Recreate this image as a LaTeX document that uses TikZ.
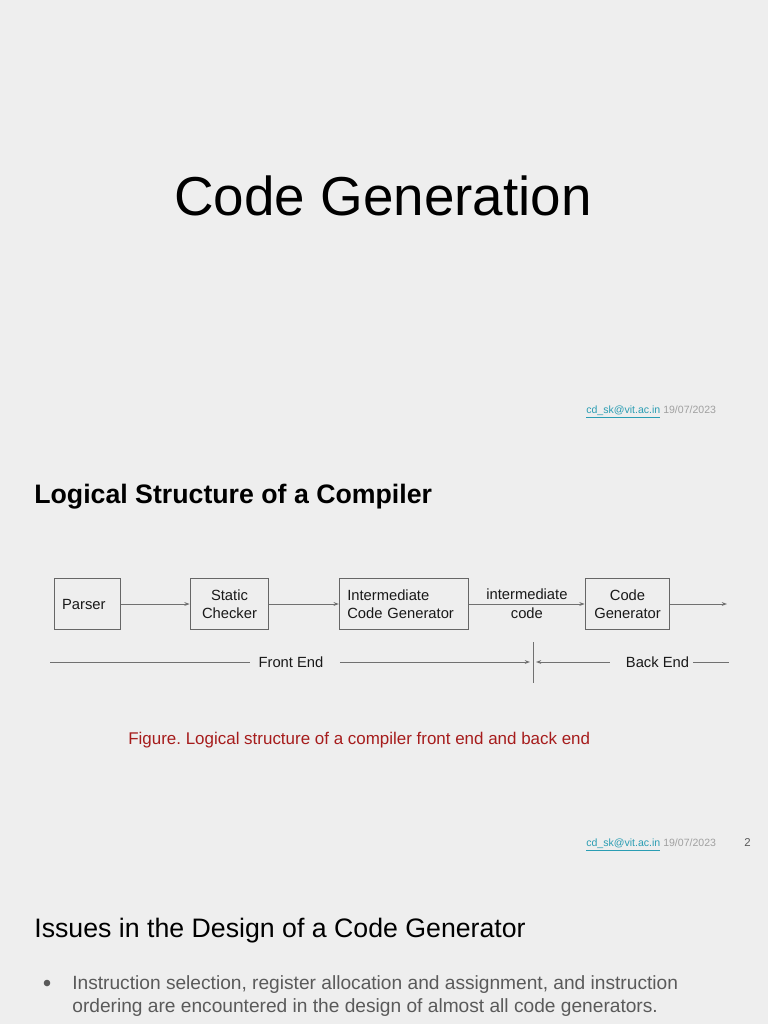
\documentclass[tikz,border=0pt]{standalone}
\usepackage{fontspec}
\setmainfont{Liberation Sans}
\usetikzlibrary{arrows.meta, calc}
\frenchspacing

\definecolor{slidebg}{HTML}{EEEEEE}
\definecolor{boxline}{HTML}{666666}
\definecolor{arrowline}{HTML}{707070}
\definecolor{captionred}{HTML}{A61C1C}
\definecolor{mailteal}{HTML}{2A9DB3}
\definecolor{dategray}{HTML}{A0A0A0}
\definecolor{bodygray}{HTML}{5A5A5A}

\tikzset{
    stage/.style={draw=boxline, line width=0.6pt, minimum height=29.5pt, inner sep=2pt, align=center,
        font=\fontsize{8.4}{10}\selectfont, text=black!90},
    leftstage/.style={stage, align=left, inner xsep=4.5pt},
    flow/.style={draw=arrowline, line width=0.5pt, -{Stealth[length=3pt, width=2.2pt]}},
    span/.style={draw=arrowline, line width=0.5pt},
    endlabel/.style={font=\fontsize{8.4}{10}\selectfont, text=black!90, inner sep=0pt},
    footer/.style={anchor=base west, inner sep=0pt, font=\fontsize{6}{7}\selectfont},
}

\begin{document}
\begin{tikzpicture}[x=0.02cm, y=-0.02cm]

\fill[slidebg] (0,0) rectangle (768,1024);
\useasboundingbox (0,0) rectangle (768,1024);

\node (title) at (383,196) {\fontsize{31.2}{36}\selectfont Code Generation};
\node (foot1) [footer] at (586,413) {\textcolor{mailteal}{\underline{cd\_sk@vit.ac.in}} \textcolor{dategray}{19/07/2023}};

\node (heading) [anchor=base west, inner sep=0pt] at (34,503) {\fontsize{15.2}{18}\selectfont\bfseries Logical Structure of a Compiler};

\node (parser) [leftstage, text width=28.9pt] at (87.5,604) {Parser};
\node (checker) [stage, minimum width=44.8pt] at (229.5,604) {Static\\Checker};
\node (icg) [leftstage, text width=64.6pt] at (404,604) {Intermediate\\Code Generator};
\node (codegen) [stage, minimum width=48.2pt] at (627.5,604) {Code\\Generator};
\coordinate (out) at (727,604);

\draw[flow] (parser) -- (checker);
\draw[flow] (checker) -- (icg);
\draw[flow] (icg) -- node[endlabel, align=center] {intermediate\\[1pt]code} (codegen);
\draw[flow] (codegen) -- (out);

\coordinate (divtop) at (533,642);
\coordinate (divbot) at (533,683);
\coordinate (divl) at (530,662);
\coordinate (divr) at (536,662);
\coordinate (feleft) at (50,662);
\coordinate (beright) at (729,662);
\node (frontend) [endlabel] at (291,662) {Front End};
\node (backend) [endlabel] at (657.5,662) {Back End};

\draw[span] (divtop) -- (divbot);
\draw[span] (feleft) -- ($(frontend.west)+(-8,0)$);
\draw[flow] ($(frontend.east)+(16,0)$) -- (divl);
\draw[flow] ($(backend.west)+(-16,0)$) -- (divr);
\draw[span] ($(backend.east)+(4,0)$) -- (beright);

\node (caption) [anchor=base west, inner sep=0pt, text=captionred] at (128,744) {\fontsize{9.65}{12}\selectfont Figure. Logical structure of a compiler front end and back end};

\node (foot2) [footer] at (586,846) {\textcolor{mailteal}{\underline{cd\_sk@vit.ac.in}} \textcolor{dategray}{19/07/2023}};
\node (pagenum) [footer, text=bodygray, font=\fontsize{6.5}{7}\selectfont] at (744,846) {2};

\node (issues) [anchor=base west, inner sep=0pt] at (34,937) {\fontsize{15.2}{18}\selectfont Issues in the Design of a Code Generator};
\fill[bodygray] (47,983) circle (3.3);
\node (point) [anchor=base west, inner sep=0pt, align=left, text=bodygray, font=\fontsize{10.9}{13}\selectfont] at (72,1012) {Instruction selection, register allocation and assignment, and instruction\\ordering are encountered in the design of almost all code generators.};

\end{tikzpicture}
\end{document}
